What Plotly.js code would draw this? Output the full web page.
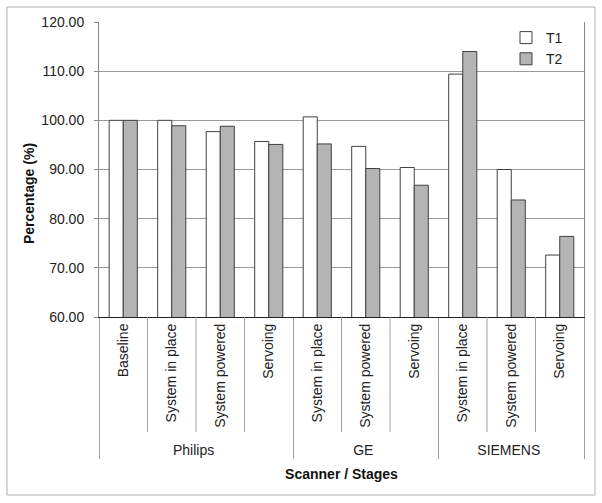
<!DOCTYPE html>
<html>
<head>
<meta charset="utf-8">
<script src="https://cdn.plot.ly/plotly-3.0.1.min.js"></script>
<style>
html,body{margin:0;padding:0;background:#fff;}
#chart{width:602px;height:503px;}
</style>
</head>
<body>
<div id="chart"></div>
<script>
const scanners = ["Philips","Philips","Philips","Philips","GE","GE","GE","SIEMENS","SIEMENS","SIEMENS"];
const stages = ["Baseline","System in place","System powered","Servoing","System in place","System powered","Servoing","System in place","System powered","Servoing"];
const t1 = [100.0, 100.0, 97.7, 95.7, 100.7, 94.7, 90.4, 109.4, 90.0, 72.6];
const t2 = [100.0, 98.9, 98.8, 95.1, 95.2, 90.2, 86.8, 114.0, 83.8, 76.4];
const yTicks = [60,70,80,90,100,110,120];

const font = "Liberation Sans, Arial, sans-serif";
const traces = [
  {type:"bar", name:"T1", x:[scanners, stages], y:t1,
   marker:{color:"#ffffff", line:{color:"#404040", width:1}}},
  {type:"bar", name:"T2", x:[scanners, stages], y:t2,
   marker:{color:"#b4b4b4", line:{color:"#404040", width:1}}}
];

const shapes = [];
for (let i = 0; i < stages.length - 1; i++) {
  if (scanners[i] === scanners[i+1]) {
    shapes.push({type:"line", xref:"x", yref:"paper", x0:i+0.5, x1:i+0.5, y0:0, y1:-0.39,
      line:{color:"#a0a0a0", width:1}});
  }
}
shapes.push({type:"rect", xref:"paper", yref:"paper", x0:-0.1897, x1:1.0227, y0:-0.6034, y1:1.0508,
  line:{color:"#b0b0b0", width:1}, fillcolor:"rgba(0,0,0,0)"});

const layout = {
  width:602, height:503,
  margin:{l:99, r:18, t:22, b:186},
  paper_bgcolor:"#fff", plot_bgcolor:"#fff",
  font:{family:font, size:14, color:"#222"},
  barmode:"group", bargap:0.42, bargroupgap:0,
  showlegend:true,
  legend:{x:0.967, y:1.0, xanchor:"right", yanchor:"top", bgcolor:"rgba(0,0,0,0)",
    font:{family:font, size:14, color:"#222"}, itemwidth:30, tracegroupgap:0},
  xaxis:{type:"multicategory", tickangle:-90, showdividers:true, dividercolor:"#a0a0a0", dividerwidth:1,
    ticks:"", showline:true, linecolor:"#222", linewidth:1, mirror:false, showgrid:false,
    tickfont:{family:font, size:14, color:"#222"},
    title:{text:"Scanner / Stages", font:{family:font, size:14, color:"#111", weight:"bold"}}},
  yaxis:{range:[60,120], tickvals:yTicks, ticktext:yTicks.map(v=>v.toFixed(2)),
    ticks:"outside", ticklen:4, tickcolor:"#888", ticklabelstandoff:7, showline:true, linecolor:"#888", mirror:true,
    gridcolor:"#999", gridwidth:1, zeroline:false,
    tickfont:{family:font, size:14, color:"#222"}},
  shapes:shapes,
  annotations:[
    {text:"Percentage (%)", xref:"paper", yref:"paper", x:-0.165, y:0.42, textangle:-90,
     showarrow:false, font:{family:font, size:14, color:"#111", weight:"bold"}}
  ]
};

Plotly.newPlot("chart", traces, layout, {displayModeBar:false, staticPlot:true});
</script>
</body>
</html>
